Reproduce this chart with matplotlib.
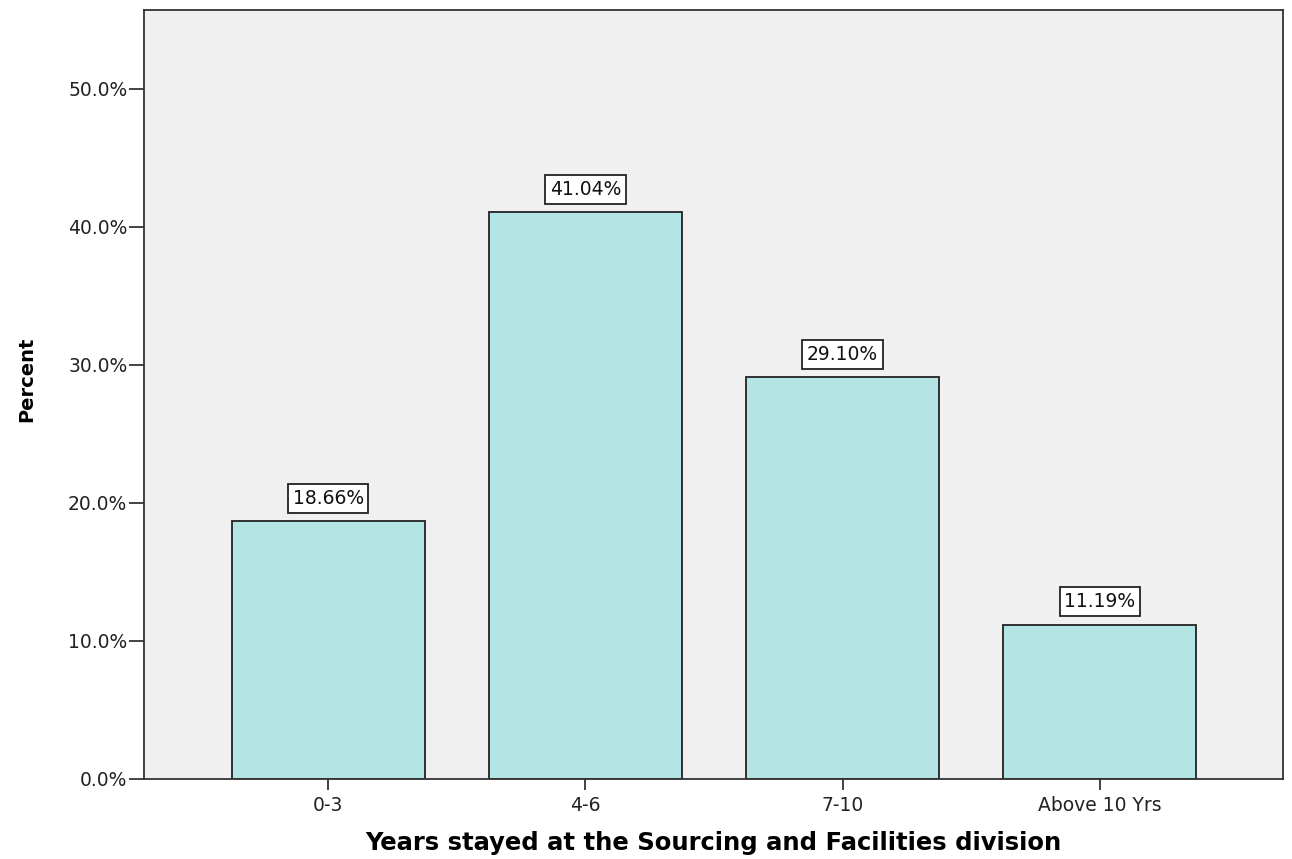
import numpy as np
import matplotlib.pyplot as plt
from matplotlib.ticker import FuncFormatter

plt.rcParams['font.family'] = ['DejaVu Sans']

categories = ['0-3', '4-6', '7-10', 'Above 10 Yrs']
percents = [18.66, 41.04, 29.10, 11.19]
y_ticks = [0, 10, 20, 30, 40, 50]

BAR_COLOR = '#b3e5e5'
BG_COLOR = '#f0f0f0'

fig = plt.figure(figsize=(12.92, 8.59), dpi=100)
ax = fig.add_axes([144 / 1292, 1 - 779 / 859, (1283 - 144) / 1292, (779 - 10) / 859])
ax.set_facecolor(BG_COLOR)

x = np.arange(len(categories))
bars = ax.bar(x, percents, width=0.75, color=BAR_COLOR, edgecolor='#222222', linewidth=1.3, zorder=2)

# value boxes above each bar
for rect, val in zip(bars, percents):
    ax.annotate(f'{val:.2f}%', xy=(rect.get_x() + rect.get_width() / 2, rect.get_height()),
                xytext=(0, 16.5), textcoords='offset points', ha='center', va='center',
                fontsize=13.5, color='#111111',
                bbox=dict(boxstyle='square,pad=0.25', facecolor='white', edgecolor='#222222', linewidth=1.3))

ax.set_xlim(-0.716, 3.712)
ax.set_ylim(0, 55.7)
ax.set_xticks(x)
ax.set_xticklabels(categories)
ax.set_yticks(y_ticks)
ax.yaxis.set_major_formatter(FuncFormatter(lambda v, _: f'{v:.1f}%'))
ax.tick_params(axis='both', labelsize=13.5, width=1.3, color='#333333', labelcolor='#222222')
ax.tick_params(axis='x', length=8, pad=4)
ax.tick_params(axis='y', length=10.5, pad=1.5)

for side in ['left', 'bottom', 'top', 'right']:
    ax.spines[side].set_linewidth(1.3)
    ax.spines[side].set_color('#333333')

ax.set_ylabel('Percent', fontsize=14, fontweight='bold')
ax.yaxis.set_label_coords(-0.0945, 0.52)
ax.set_xlabel('Years stayed at the Sourcing and Facilities division', fontsize=17.5,
              fontweight='bold', labelpad=12)

fig.savefig('out.png', dpi=100)
